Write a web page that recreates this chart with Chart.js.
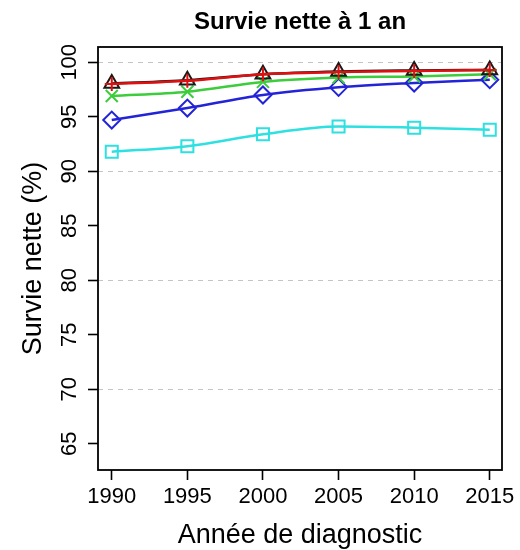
<!DOCTYPE html>
<html>
<head>
<meta charset="utf-8">
<script src="https://cdn.jsdelivr.net/npm/chart.js@4.4.1/dist/chart.umd.min.js"></script>
<style>
  html, body { margin: 0; padding: 0; background: #ffffff; }
  canvas { display: block; }
</style>
</head>
<body>
<canvas id="chart" width="520" height="550"></canvas>
<script>
// Années de diagnostic
const years = [1990, 1995, 2000, 2005, 2010, 2015];

// Survie nette à 1 an (%) par groupe
const survieTriangle = [98.05, 98.35, 98.9, 99.15, 99.25, 99.3];
const survieCroix    = [98.0, 98.3, 98.9, 99.1, 99.2, 99.3];
const survieX        = [96.9, 97.3, 98.2, 98.6, 98.7, 98.9];
const survieLosange  = [94.7, 95.8, 97.0, 97.7, 98.1, 98.4];
const survieCarre    = [91.8, 92.3, 93.4, 94.1, 94.0, 93.8];

// Graduations
const xTicks = [1990, 1995, 2000, 2005, 2010, 2015];
const yTicks = [65, 70, 75, 80, 85, 90, 95, 100];
const yGridValues = [70, 80, 90, 100];

const FONT = "'Liberation Sans', Arial, Helvetica, sans-serif";
Chart.defaults.font.family = FONT;
Chart.defaults.color = '#000000';

function serie(values, color, style, radius, width) {
  return {
    data: years.map((y, i) => ({ x: y, y: values[i] })),
    borderColor: color,
    borderWidth: width,
    pointStyle: style,
    pointRadius: radius,
    pointBorderColor: color,
    pointBorderWidth: 2,
    pointBackgroundColor: 'rgba(0,0,0,0)',
    cubicInterpolationMode: 'monotone',
    fill: false
  };
}

// index 0 is painted on top
const datasets = [
  serie(survieCroix,    '#e01010', 'cross',    7, 2.5),
  serie(survieTriangle, '#1a1a1a', 'triangle', 8.5, 2.5),
  serie(survieX,        '#3ccc3c', 'crossRot', 8.5, 2.5),
  serie(survieLosange,  '#2323d8', 'rectRot',  8.5, 2.5),
  serie(survieCarre,    '#2ee0e0', 'rect',     8.5, 2.5)
];

// cadre noir autour de la zone de tracé
const framePlugin = {
  id: 'frame',
  afterDraw(chart) {
    const a = chart.chartArea;
    const ctx = chart.ctx;
    ctx.save();
    ctx.strokeStyle = '#000000';
    ctx.lineWidth = 1.8;
    ctx.setLineDash([]);
    ctx.strokeRect(a.left, a.top, a.right - a.left, a.bottom - a.top);
    ctx.restore();
  }
};

new Chart(document.getElementById('chart'), {
  type: 'line',
  data: { datasets },
  plugins: [framePlugin],
  options: {
    responsive: false,
    animation: false,
    devicePixelRatio: 1,
    layout: { padding: { left: 0, right: 18, top: 0, bottom: 0 } },
    plugins: {
      legend: { display: false },
      tooltip: { enabled: false },
      title: {
        display: true,
        text: 'Survie nette à 1 an',
        fullSize: false,
        color: '#000000',
        font: { size: 24, weight: 'bold', family: FONT },
        padding: { top: 7.5, bottom: 10.7 }
      }
    },
    scales: {
      x: {
        type: 'linear',
        min: 1989.09,
        max: 2015.81,
        afterBuildTicks(scale) { scale.ticks = xTicks.map(v => ({ value: v })); },
        afterFit(scale) {
          scale.height = 80;
          scale.paddingLeft = 0;
          scale.paddingRight = 0;
        },
        grid: {
          drawOnChartArea: false,
          drawTicks: true,
          tickLength: 10,
          tickColor: '#000000',
          tickWidth: 1.6
        },
        border: { display: false },
        ticks: {
          autoSkip: false,
          maxRotation: 0,
          padding: 4,
          color: '#000000',
          font: { size: 22 },
          callback: v => String(v)
        },
        title: {
          display: true,
          text: 'Année de diagnostic',
          color: '#000000',
          font: { size: 27, lineHeight: 1.1 },
          padding: { top: 0, bottom: 0 }
        }
      },
      y: {
        type: 'linear',
        min: 62.6,
        max: 101.4,
        afterBuildTicks(scale) { scale.ticks = yTicks.map(v => ({ value: v })); },
        afterFit(scale) {
          scale.width = 98;
          scale.paddingTop = 0;
          scale.paddingBottom = 0;
        },
        grid: {
          drawOnChartArea: true,
          drawTicks: true,
          tickLength: 10,
          tickWidth: 1.6,
          tickColor: '#000000',
          tickBorderDash: [],
          lineWidth: 1,
          color: ctx => (ctx.tick && yGridValues.includes(ctx.tick.value)) ? '#c4c4c4' : 'rgba(0,0,0,0)'
        },
        border: { display: false, dash: [5, 5] },
        ticks: {
          autoSkip: false,
          minRotation: 90,
          maxRotation: 90,
          crossAlign: 'center',
          padding: 0,
          color: '#000000',
          font: { size: 22 },
          callback: v => String(v)
        },
        title: {
          display: true,
          text: 'Survie nette (%)',
          color: '#000000',
          font: { size: 27, lineHeight: 1.1 },
          padding: { top: 19, bottom: 0 }
        }
      }
    }
  }
});
</script>
</body>
</html>
